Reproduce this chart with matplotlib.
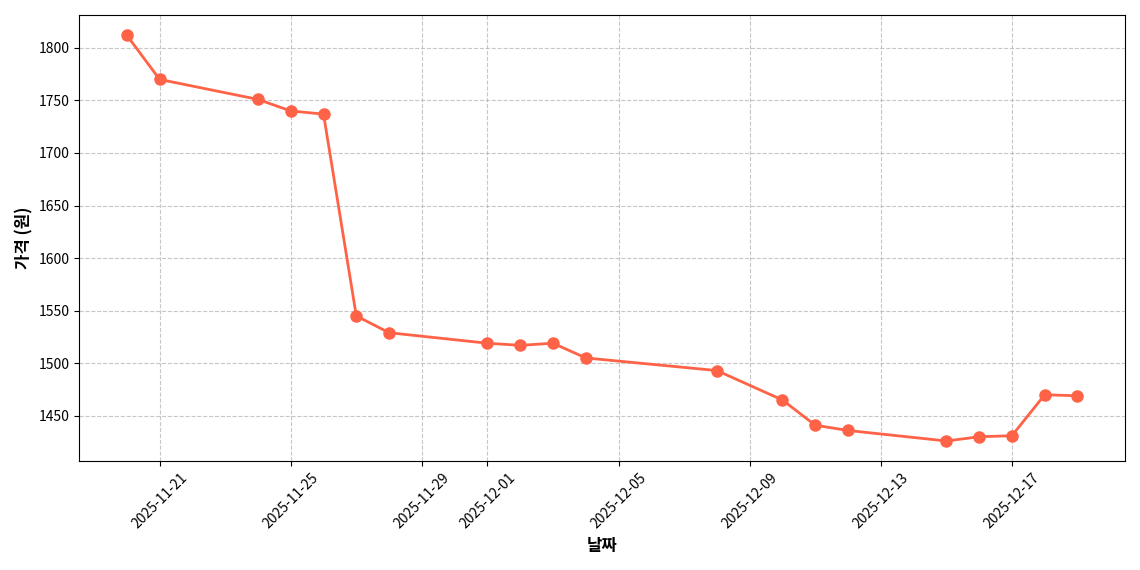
import matplotlib
matplotlib.use("Agg")
import matplotlib.pyplot as plt
import matplotlib.dates as mdates
import pandas as pd

plt.rcParams['font.family'] = ['Noto Sans CJK KR', 'DejaVu Sans']

dates = ["2025-11-20", "2025-11-21", "2025-11-24", "2025-11-25", "2025-11-26",
         "2025-11-27", "2025-11-28", "2025-12-01", "2025-12-02", "2025-12-03",
         "2025-12-04", "2025-12-08", "2025-12-10", "2025-12-11", "2025-12-12",
         "2025-12-15", "2025-12-16", "2025-12-17", "2025-12-18", "2025-12-19"]
prices = [1812, 1770, 1751, 1740, 1737, 1545, 1529, 1519, 1517, 1519,
          1505, 1493, 1465, 1441, 1436, 1426, 1430, 1431, 1470, 1469]

x = pd.to_datetime(dates)

fig, ax = plt.subplots(figsize=(11.4, 5.7), dpi=100)
ax.plot(x, prices, color="#FF6347", marker="o", markersize=8, linewidth=2)

ax.xaxis.set_major_locator(mdates.DayLocator(bymonthday=[1, 5, 9, 13, 17, 21, 25, 29]))
ax.xaxis.set_major_formatter(mdates.DateFormatter("%Y-%m-%d"))
plt.setp(ax.get_xticklabels(), rotation=45)

ax.set_xlabel("날짜", fontsize=12, fontweight="bold")
ax.set_ylabel("가격 (원)", fontsize=12, fontweight="bold")
ax.grid(True, linestyle="--", alpha=0.7)

plt.tight_layout()
fig.savefig("out.png")
